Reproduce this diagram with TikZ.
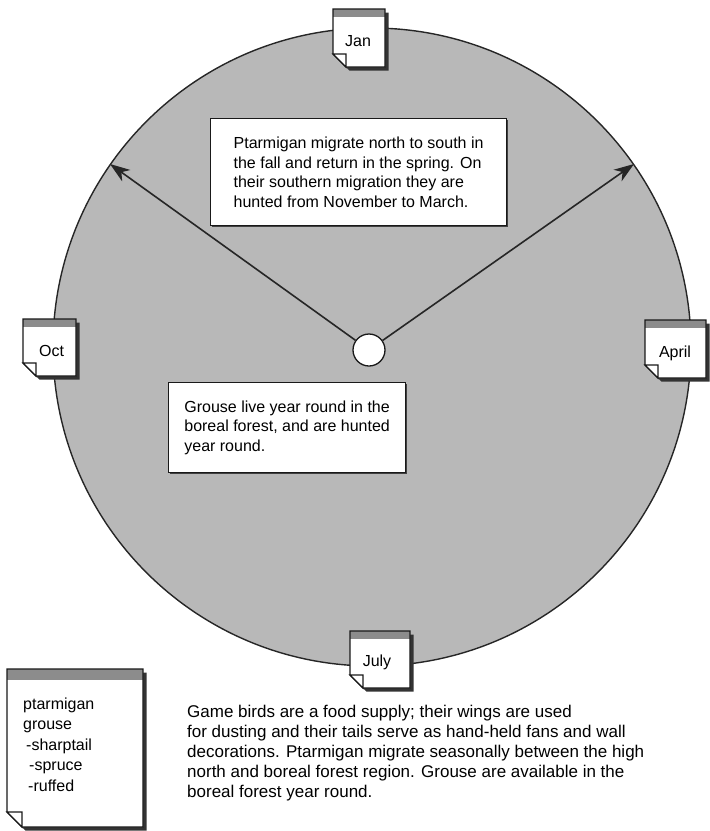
\documentclass[tikz,border=0pt]{standalone}
\usepackage{fontspec}
\setmainfont{Liberation Sans}
\usetikzlibrary{arrows.meta}

\tikzset{
  season/.style={fill=black!28, draw=black!85, line width=1.4pt},
  shadowc/.style={fill=black!80},
  notebody/.style={draw=black!90, line width=1.1pt},
  band/.style={fill=black!45},
  textbox/.style={draw=black!90, line width=1.2pt, fill=white, align=left,
    font=\fontsize{16}{19.5}\selectfont, inner sep=0pt},
  boxshadow/.style={fill=black!75},
  notelabel/.style={font=\fontsize{16}{19}\selectfont, inner sep=0pt, anchor=base},
  plain/.style={font=\fontsize{17}{20}\selectfont, align=left, inner sep=0pt, anchor=north west},
  migration/.style={draw=black!85, line width=1.6pt, -{Stealth[length=20pt,width=14pt,inset=6pt]}},
}

% calendar note: #2,#3 top-left corner, #4 width, #5 height, #6 band height,
% #1 size of the folded corner
\newcommand\calnote[6][13]{%
  \fill[shadowc] ({#2+3.5},{#3+3.5}) -- ({#2+#4+3.5},{#3+3.5}) -- ({#2+#4+3.5},{#3+#5+3.5})
     -- ({#2+#1+3.5},{#3+#5+3.5}) -- ({#2+3.5},{#3+#5-#1+3.5}) -- cycle;
  \fill[white] (#2,#3) -- ({#2+#4},#3) -- ({#2+#4},{#3+#5}) -- ({#2+#1},{#3+#5})
     -- (#2,{#3+#5-#1}) -- cycle;
  \fill[band] (#2,#3) rectangle ({#2+#4},{#3+#6});
  \draw[notebody] (#2,#3) -- ({#2+#4},#3) -- ({#2+#4},{#3+#5}) -- ({#2+#1},{#3+#5})
     -- (#2,{#3+#5-#1}) -- cycle;
  \filldraw[notebody, fill=white] (#2,{#3+#5-#1}) -- ({#2+#1},{#3+#5-#1})
     -- ({#2+#1},{#3+#5}) -- cycle;
}

\begin{document}
\begin{tikzpicture}[x=1pt,y=-1pt]
\useasboundingbox (0,0) rectangle (710,831);

% the year wheel
\draw[season] (372,347) circle (319);

% hub and the two migration arrows
\coordinate (north) at (110,164);
\coordinate (spring) at (634,164);
\node[circle, draw=black!90, fill=white, line width=1.3pt, minimum size=32pt, inner sep=0pt] (hub) at (369,350) {};
\draw[migration] (hub) -- (north);
\draw[migration] (hub) -- (spring);

% month notes
\calnote{333}{9}{52}{58}{8}
\node[notelabel] (jan) at (358,46.5) {Jan};
\calnote{23}{319}{53}{57}{8}
\node[notelabel] (oct) at (51.5,356.5) {Oct};
\calnote{645}{320}{61}{58}{8}
\node[notelabel] (apr) at (675,357.5) {April};
\calnote{350}{631}{60}{57}{8}
\node[notelabel] (jul) at (377,666.5) {July};

% text boxes inside the wheel
\fill[boxshadow] (212,120) rectangle (508,227);
\node[textbox, anchor=north west, minimum width=296pt, minimum height=107pt] (ptarm) at (210,118)
  {Ptarmigan migrate north to south in\\
   the fall and return in the spring. On\\
   their southern migration they are\\
   hunted from November to March.};

\fill[boxshadow] (170,384) rectangle (407,474);
\node[textbox, anchor=north west, minimum width=237pt, minimum height=90pt] (grouse) at (168,382)
  {Grouse live year round in the\\
   boreal forest, and are hunted\\
   year round.};

% legend note
\calnote[15]{7}{669}{136}{158}{11}
\node[plain, font=\fontsize{16}{20.5}\selectfont] (legend) at (23,697.5)
  {ptarmigan\\
   grouse\\
   \hspace*{3pt}-sharptail\\
   \hspace*{6pt}-spruce\\
   \hspace*{5pt}-ruffed};

% caption
\node[plain] (caption) at (187,704.5)
  {Game birds are a food supply; their wings are used\\
   for dusting and their tails serve as hand-held fans and wall\\
   decorations. Ptarmigan migrate seasonally between the high\\
   north and boreal forest region. Grouse are available in the\\
   boreal forest year round.};
\end{tikzpicture}
\end{document}
